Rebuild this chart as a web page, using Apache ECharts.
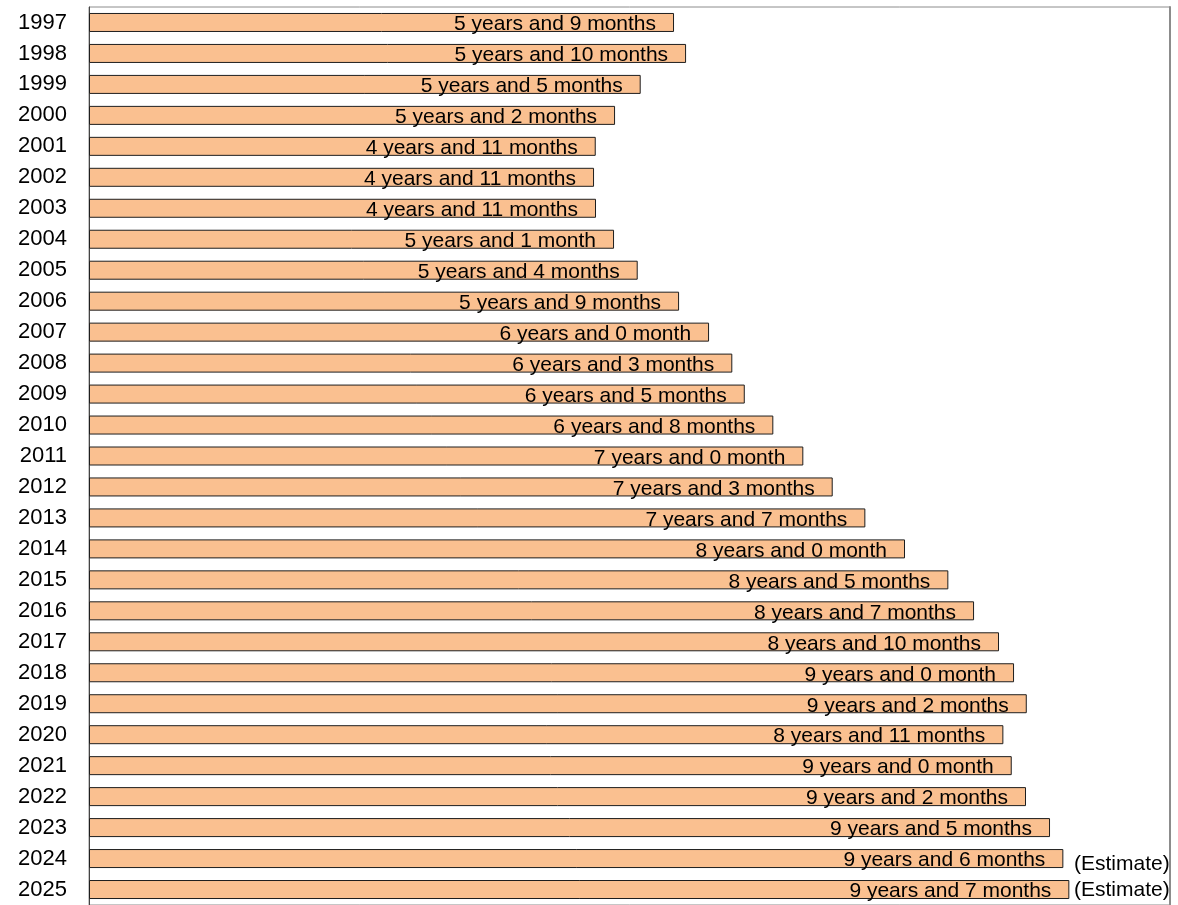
<!DOCTYPE html>
<html>
<head>
<meta charset="utf-8">
<script src="https://cdn.jsdelivr.net/npm/echarts@6/dist/echarts.min.js"></script>
<style>
html,body{margin:0;padding:0;background:#fff;}
#chart{width:1178px;height:905px;}
</style>
</head>
<body>
<div id="chart"></div>
<script>
// Categories (fiscal years)
var categories = ['1997','1998','1999','2000','2001','2002','2003','2004','2005','2006','2007','2008','2009','2010','2011','2012','2013','2014','2015','2016','2017','2018','2019','2020','2021','2022','2023','2024','2025'];
// Bar lengths in months
var valuesMonths = [68.46,69.87,64.56,61.56,59.30,59.10,59.33,61.44,64.21,69.05,72.56,75.28,76.74,80.08,83.59,87.03,90.85,95.49,100.56,103.57,106.49,108.25,109.74,107.0,107.98,109.65,112.46,114.02,114.72];
// Label parts: years and months as printed
var labelYears  = [5,5,5,5,4,4,4,5,5,5,6,6,6,6,7,7,7,8,8,8,8,9,9,8,9,9,9,9,9];
var labelMonths = [9,10,5,2,11,11,11,1,4,9,0,3,5,8,0,3,7,0,5,7,10,0,2,11,0,2,5,6,7];
// Estimate notes
var estimateCats = ['2024','2025'];
var estimateText = '(Estimate)';

var chart = echarts.init(document.getElementById('chart'), null, {renderer:'canvas'});

function labelFor(i){
  var m = labelMonths[i];
  return labelYears[i] + ' years and ' + m + (m <= 1 ? ' month' : ' months');
}

var option = {
  animation:false,
  backgroundColor:'#ffffff',
  grid:{left:89, top:7, width:1081, height:899, show:true, borderColor:'#8c8c8c', borderWidth:1, containLabel:false},
  xAxis:{type:'value', min:0, max:126.5, show:false},
  yAxis:[{
    type:'category', data:categories, inverse:true,
    axisLine:{show:true, lineStyle:{color:'#444444', width:1}},
    axisTick:{show:false},
    axisLabel:{color:'#000', fontFamily:'Liberation Sans, Arial, sans-serif', fontSize:22, margin:22, padding:[4,0,0,0]}
  },{
    type:'category', data:categories, inverse:true, position:'right',
    axisLine:{show:true, lineStyle:{color:'#8c8c8c', width:2}},
    axisTick:{show:false}, axisLabel:{show:false}
  }],
  series:[{
    type:'bar',
    data:valuesMonths,
    barWidth:19,
    itemStyle:{color:'#FAC090', borderColor:'#1e1e1e', borderWidth:1},
    label:{
      show:true, position:'insideRight', distance:18,
      color:'#000', fontFamily:'Liberation Sans, Arial, sans-serif', fontSize:21,
      offset:[0,2],
      formatter:function(p){ return labelFor(p.dataIndex); }
    }
  }]
};
chart.setOption(option);

var extraOffsets = [7, 2];
var gfx = estimateCats.map(function(c, k){
  var y = chart.convertToPixel({yAxisIndex:0}, c);
  return {
    type:'text', left:1074, top:y + extraOffsets[k] - 12,
    style:{text:estimateText, fill:'#000', font:'21px "Liberation Sans", Arial, sans-serif'}
  };
});
chart.setOption({graphic:gfx});
</script>
</body>
</html>
